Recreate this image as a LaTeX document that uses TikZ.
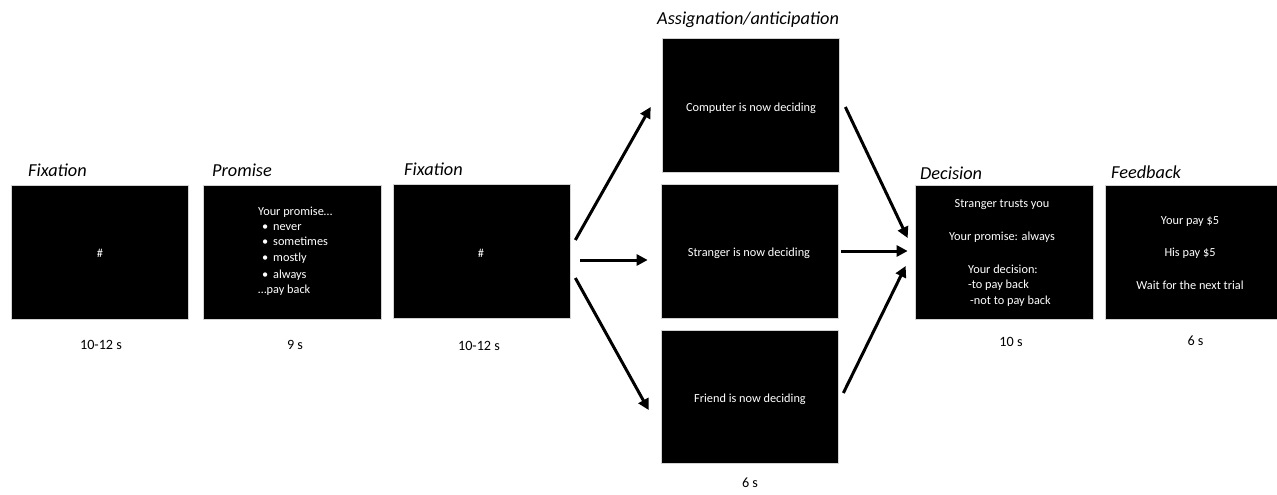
\documentclass[tikz,border=0pt]{standalone}
\usepackage{fontspec}
\setmainfont{Carlito}
\usetikzlibrary{arrows.meta,calc}
\begin{document}
\begin{tikzpicture}[x=1pt,y=-1pt,
 screen/.style={rectangle,fill=black,draw=gray!35,line width=0.7pt,inner sep=0pt,minimum width=177pt,minimum height=134pt},
 title/.style={anchor=base west,font=\fontsize{18.3}{20}\selectfont\itshape,inner sep=0pt},
 dur/.style={anchor=base,font=\fontsize{14.2}{16}\selectfont,inner sep=0pt},
 scr/.style={text=white,font=\fontsize{12.3}{14}\selectfont,inner sep=0pt},
 item/.style={scr,anchor=base west},
 arr/.style={-{Triangle[length=11pt,width=11pt]},line width=3pt}]
\useasboundingbox (0,0) rectangle (1277,495);

% screens
\node[screen] (fixA) at (99.5,252) {};
\node[screen,minimum width=178pt] (prom) at (292,252) {};
\node[screen] (fixB) at (481.5,251) {};
\node[screen] (comp) at (750.5,105) {};
\node[screen] (str) at (749.5,251) {};
\node[screen,minimum height=133pt] (fri) at (749.5,396.5) {};
\node[screen,minimum width=178pt] (dec) at (1004,252) {};
\node[screen,minimum width=176pt] (fb) at (1193,252) {};

% titles
\node[title] (tFixA) at (28,176) {Fixation};
\node[title] (tProm) at (212,176) {Promise};
\node[title] (tFixB) at (404,175) {Fixation};
\node[title] (tAss) at (657,25) {Assignation/anticipation};
\node[title] (tDec) at (920,179) {Decision};
\node[title] (tFb) at (1111,178) {Feedback};

% durations
\node[dur] (dFixA) at (101,349) {10-12 s};
\node[dur] (dProm) at (295,349) {9 s};
\node[dur] (dFixB) at (479,350) {10-12 s};
\node[dur] (dDec) at (1011,346) {10 s};
\node[dur] (dFb) at (1195.5,345) {6 s};
\node[dur] (dAss) at (750,487) {6 s};

% screen texts
\node[scr] (hA) at (100,253) {\#};
\node[scr] (hB) at (481,253) {\#};
\node[item] (p1) at (258,215) {Your promise…};
\node[item] (p2) at (262,230) {\makebox[11pt][l]{•}never};
\node[item] (p3) at (262,245.5) {\makebox[11pt][l]{•}sometimes};
\node[item] (p4) at (262,261.5) {\makebox[11pt][l]{•}mostly};
\node[item] (p5) at (262,278) {\makebox[11pt][l]{•}always};
\node[item] (p6) at (258,293) {…pay back};

\node[scr] (cT) at (751,108) {Computer is now deciding};
\node[scr] (sT) at (749,253) {Stranger is now deciding};
\node[scr] (fT) at (750,399) {Friend is now deciding};

\node[scr] (d1) at (1002,205) {Stranger trusts you};
\node[scr] (d2) at (1002,237) {Your promise: always};
\node[scr,anchor=west] (d3) at (968,269) {Your decision:};
\node[scr,anchor=west] (d4) at (968,285) {-to pay back};
\node[scr,anchor=west] (d5) at (970,301) {-not to pay back};

\node[scr] (f1) at (1190,222) {Your pay \$5};
\node[scr] (f2) at (1190,253) {His pay \$5};
\node[scr] (f3) at (1190,285) {Wait for the next trial};

% arrows
\draw[arr] ($(fixB.east)+(5,-11)$) -- ($(comp.west)+(-11,2)$);
\draw[arr] ($(fixB.east)+(10,9)$) -- ($(str.west)+(-13,9)$);
\draw[arr] ($(fixB.east)+(5,27)$) -- ($(fri.west)+(-12,13.5)$);
\draw[arr] ($(comp.east)+(6,2)$) -- ($(dec.west)+(-7,-14)$);
\draw[arr] ($(str.east)+(3,0)$) -- ($(dec.west)+(-7,-1)$);
\draw[arr] ($(fri.east)+(5,-3.5)$) -- ($(dec.west)+(-9,14)$);
\end{tikzpicture}
\end{document}
